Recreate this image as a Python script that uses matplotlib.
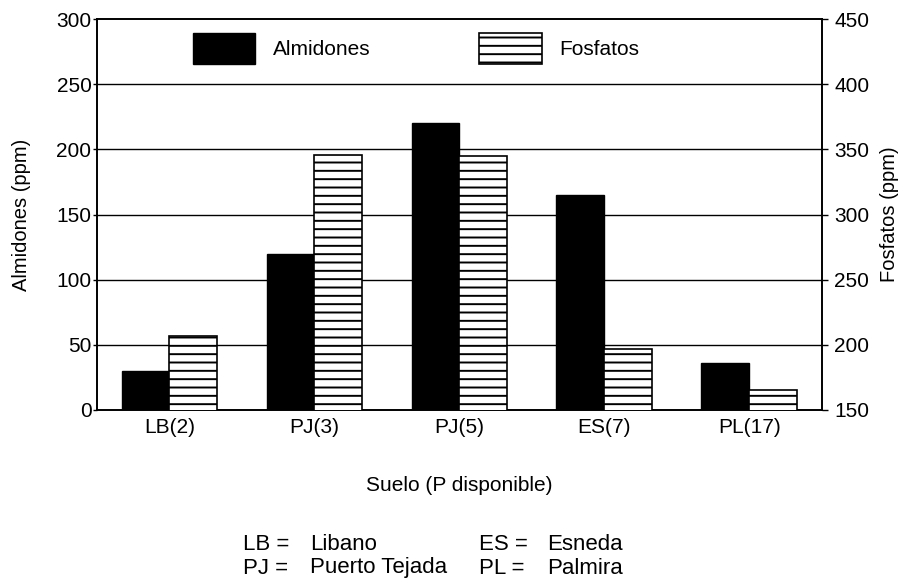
import matplotlib
matplotlib.use("Agg")
import matplotlib.pyplot as plt
import numpy as np

plt.rcParams['font.family'] = ['Liberation Sans', 'DejaVu Sans']
plt.rcParams['hatch.linewidth'] = 1.4

categories = ["LB(2)", "PJ(3)", "PJ(5)", "ES(7)", "PL(17)"]
almidones = [30, 120, 220, 165, 36]
fosfatos = [207, 346, 345, 197, 165]
left_ticks = [0, 50, 100, 150, 200, 250, 300]
right_ticks = [150, 200, 250, 300, 350, 400, 450]

FS = 15

fig = plt.figure(figsize=(9.06, 5.79), dpi=100)
ax = fig.add_axes([0.107, 0.292, 0.800, 0.675])
ax2 = ax.twinx()

x = np.arange(len(categories))
w = 0.33

ax.set_ylim(0, 300)
ax.set_xlim(-0.5, len(categories) - 0.5)

for yv in left_ticks[1:-1]:
    ax.axhline(yv, color='black', lw=1.0, zorder=1)

b1 = ax.bar(x - w / 2, almidones, w, color='black', edgecolor='black', lw=1.0, zorder=3, label='Almidones')
b2 = ax2.bar(x + w / 2, fosfatos, w, color='white', edgecolor='black', lw=1.2,
             hatch='--', zorder=3, label='Fosfatos')
ax2.set_ylim(150, 450)

ax.set_yticks(left_ticks)
ax2.set_yticks(right_ticks)
ax.set_xticks(x)
ax.set_xticklabels(categories, fontsize=FS)
ax.tick_params(axis='x', length=0, pad=6)
ax.tick_params(axis='y', labelsize=FS, length=3, width=1, direction='out', pad=1)
ax2.tick_params(axis='y', labelsize=FS, length=4, width=1, direction='out', pad=5)
for a in (ax, ax2):
    for s in a.spines.values():
        s.set_linewidth(1.2)

ax.set_ylabel("Almidones (ppm)", fontsize=14.5)
ax.yaxis.set_label_coords(-0.091, 0.5)
ax2.set_ylabel("Fosfatos (ppm)", fontsize=14.5)
ax2.yaxis.set_label_coords(1.081, 0.5)
ax.set_xlabel("Suelo (P disponible)", fontsize=FS, labelpad=28)

leg = ax2.legend(handles=[b1, b2], labels=['Almidones', 'Fosfatos'], ncol=2, frameon=False,
                 loc='upper left', bbox_to_anchor=(0.121, 0.985), fontsize=FS,
                 handlelength=3.0, handleheight=1.9, columnspacing=5.2, handletextpad=0.85,
                 borderaxespad=0)

FN = 16
r1 = 1 - 545 / 579
r2 = 1 - 568 / 579
fig.text(243 / 906, r1, "LB =", fontsize=FN, va='center')
fig.text(310 / 906, r1, "Libano", fontsize=FN, va='center')
fig.text(243 / 906, r2, "PJ =", fontsize=FN, va='center')
fig.text(310 / 906, r2, "Puerto Tejada", fontsize=FN, va='center')
fig.text(479 / 906, r1, "ES =", fontsize=FN, va='center')
fig.text(547 / 906, r1, "Esneda", fontsize=FN, va='center')
fig.text(479 / 906, r2, "PL =", fontsize=FN, va='center')
fig.text(547 / 906, r2, "Palmira", fontsize=FN, va='center')

fig.savefig("out.png", dpi=100)
